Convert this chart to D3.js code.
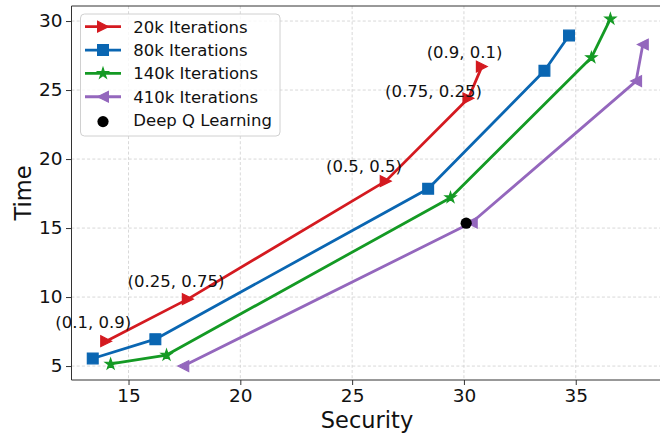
<!DOCTYPE html>
<html>
<head>
<meta charset="utf-8">
<script src="https://cdn.jsdelivr.net/npm/d3@7"></script>
<style>
  html, body { margin: 0; padding: 0; background: #fff; }
  svg { display: block; font-family: "DejaVu Sans", sans-serif; }
</style>
</head>
<body>
<svg id="chart" width="660" height="437"></svg>
<script>
// Security vs. time for each training length, weight pairs annotated on the 20k run
const seriesNames = ["20k Iterations", "80k Iterations", "140k Iterations", "410k Iterations"];
const security20k  = [14.0, 17.65, 26.5, 30.2, 30.8];
const time20k      = [6.8, 9.85, 18.4, 24.4, 26.7];
const security80k  = [13.4, 16.2, 28.4, 33.6, 34.7];
const time80k      = [5.55, 6.95, 17.85, 26.4, 28.95];
const security140k = [14.2, 16.7, 29.4, 35.7, 36.55];
const time140k     = [5.15, 5.8, 17.2, 27.35, 30.15];
const security410k = [17.45, 30.35, 37.7, 38.0];
const time410k     = [5.0, 15.4, 25.65, 28.3];

const dqlName = "Deep Q Learning";
const dqlSecurity = [30.1];
const dqlTime = [15.35];

// weight labels placed in data coordinates beside the 20k points
const weightLabels = ["(0.1, 0.9)", "(0.25, 0.75)", "(0.5, 0.5)", "(0.75, 0.25)", "(0.9, 0.1)"];
const weightLabelX = [13.42, 17.12, 25.53, 28.64, 30.03];
const weightLabelY = [7.79, 10.75, 19.04, 24.51, 27.30];

const xTicks = [15, 20, 25, 30, 35];
const yTicks = [5, 10, 15, 20, 25, 30];
const xTitle = "Security";
const yTitle = "Time";

// ---- presentation ----
const colors  = ["#d41a20", "#0a66b2", "#149a24", "#9467bd"];
const markers = ["triRight", "square", "star", "triLeft"];

const svg = d3.select("#chart");
const pLeft = 71.5, pRight = 662.5, pTop = 6, pBottom = 380;

const x = d3.scaleLinear().domain([12.45, 38.88]).range([pLeft, pRight]);
const y = d3.scaleLinear().domain([3.99, 31.09]).range([pBottom, pTop]);

const series = [
  { xs: security20k,  ys: time20k },
  { xs: security80k,  ys: time80k },
  { xs: security140k, ys: time140k },
  { xs: security410k, ys: time410k }
].map((s, i) => ({ name: seriesNames[i], color: colors[i], marker: markers[i],
  pts: s.xs.map((v, j) => [v, s.ys[j]]) }));

// grid
const grid = svg.append("g").attr("stroke", "#d4d4d4").attr("stroke-width", 0.9)
  .attr("stroke-dasharray", "3,2.2");
grid.selectAll("line.gx").data(xTicks).join("line").attr("class", "gx")
  .attr("x1", d => x(d)).attr("x2", d => x(d)).attr("y1", pTop).attr("y2", pBottom);
grid.selectAll("line.gy").data(yTicks).join("line").attr("class", "gy")
  .attr("x1", pLeft).attr("x2", pRight).attr("y1", d => y(d)).attr("y2", d => y(d));

// axes
const fontTick = 18.5;
const xAxis = d3.axisBottom(x).tickValues(xTicks).tickSize(5).tickPadding(3.5);
const yAxis = d3.axisLeft(y).tickValues(yTicks).tickSize(5.5).tickPadding(3.5);
const gx = svg.append("g").attr("transform", `translate(0,${pBottom})`).call(xAxis);
const gy = svg.append("g").attr("transform", `translate(${pLeft},0)`).call(yAxis);
[gx, gy].forEach(g => {
  g.select(".domain").remove();
  g.selectAll(".tick line").attr("stroke", "#333").attr("stroke-width", 1);
  g.selectAll(".tick text").attr("fill", "#111").style("font-size", fontTick + "px")
    .style("font-family", "DejaVu Sans, sans-serif");
});

// spines
svg.append("path")
  .attr("d", `M${pRight},${pTop}H${pLeft}V${pBottom}H${pRight}`)
  .attr("fill", "none").attr("stroke", "#333").attr("stroke-width", 1);

// axis titles
svg.append("text").attr("x", (pLeft + pRight) / 2).attr("y", 428)
  .attr("text-anchor", "middle").style("font-size", "22.5px").attr("fill", "#111").text(xTitle);
svg.append("text").attr("transform", `translate(30.5,${(pTop + pBottom) / 2}) rotate(-90)`)
  .attr("text-anchor", "middle").style("font-size", "22.5px").attr("fill", "#111").text(yTitle);

// marker shapes, centred on 0,0
const mSize = 10.8;
function markerPath(kind, m) {
  const h = m / 2;
  if (kind === "triRight") return `M${h},0L${-h},${-h}L${-h},${h}Z`;
  if (kind === "triLeft")  return `M${-h},0L${h},${-h}L${h},${h}Z`;
  if (kind === "square")   return `M${-h},${-h}H${h}V${h}H${-h}Z`;
  if (kind === "star") {
    const pts = [];
    for (let k = 0; k < 10; k++) {
      const r = k % 2 === 0 ? h * 1.05 : h * 1.05 * 0.382;
      const a = -Math.PI / 2 + k * Math.PI / 5;
      pts.push([r * Math.cos(a), r * Math.sin(a)]);
    }
    return "M" + pts.map(p => p.join(",")).join("L") + "Z";
  }
  return "";
}

const line = d3.line().x(d => x(d[0])).y(d => y(d[1]));
const plot = svg.append("g");
series.forEach(s => {
  const g = plot.append("g");
  g.append("path").attr("d", line(s.pts)).attr("fill", "none")
    .attr("stroke", s.color).attr("stroke-width", 2.8).attr("stroke-linejoin", "round");
  g.selectAll("path.mk").data(s.pts).join("path").attr("class", "mk")
    .attr("transform", d => `translate(${x(d[0])},${y(d[1])})`)
    .attr("d", markerPath(s.marker, mSize))
    .attr("fill", s.color).attr("stroke", s.color).attr("stroke-width", 1.2)
    .attr("stroke-linejoin", "miter");
});

// Deep Q Learning reference point
plot.selectAll("circle.dql").data(dqlSecurity.map((v, i) => [v, dqlTime[i]])).join("circle")
  .attr("class", "dql").attr("cx", d => x(d[0])).attr("cy", d => y(d[1]))
  .attr("r", 5.6).attr("fill", "#000");

// weight annotations
svg.append("g").selectAll("text").data(weightLabels).join("text")
  .attr("x", (d, i) => x(weightLabelX[i])).attr("y", (d, i) => y(weightLabelY[i]))
  .attr("text-anchor", "middle").style("font-size", "16.5px").attr("fill", "#111")
  .text(d => d);

// legend
const lg = svg.append("g");
lg.append("rect").attr("x", 80.5).attr("y", 14).attr("width", 199.5).attr("height", 122)
  .attr("rx", 4).attr("fill", "#fff").attr("fill-opacity", 0.8)
  .attr("stroke", "#d0d0d0").attr("stroke-width", 1);
const rowY = i => 26.7 + i * 23.35;
series.forEach((s, i) => {
  const ry = rowY(i);
  lg.append("line").attr("x1", 85).attr("x2", 121).attr("y1", ry).attr("y2", ry)
    .attr("stroke", s.color).attr("stroke-width", 2.8);
  lg.append("path").attr("transform", `translate(103,${ry})`)
    .attr("d", markerPath(s.marker, mSize))
    .attr("fill", s.color).attr("stroke", s.color).attr("stroke-width", 1.2);
  lg.append("text").attr("x", 133.3).attr("y", ry).attr("dy", "0.36em")
    .style("font-size", "16.5px").attr("fill", "#111").text(s.name);
});
lg.append("circle").attr("cx", 103).attr("cy", rowY(4) + 1.5).attr("r", 5.6).attr("fill", "#000");
lg.append("text").attr("x", 133.3).attr("y", rowY(4)).attr("dy", "0.36em")
  .style("font-size", "16.5px").attr("fill", "#111").text(dqlName);
</script>
</body>
</html>
